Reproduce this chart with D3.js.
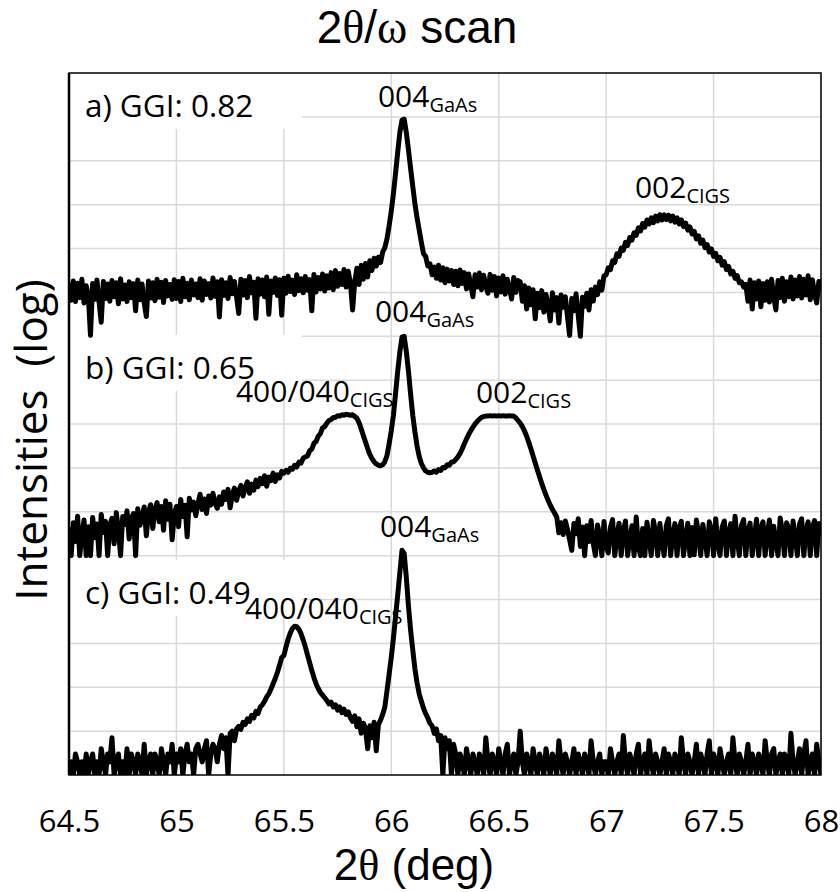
<!DOCTYPE html>
<html><head><meta charset="utf-8">
<script src="https://cdn.jsdelivr.net/npm/d3@7"></script>
<style>body{margin:0;background:#fff}svg{display:block}</style>
</head><body>
<svg id="chart" width="840" height="892"></svg>
<script>
// ---- data: 2theta grid 64.50 .. 68.00 in 0.01 deg steps ----
const thetaStart = 64.5;
const thetaStep = 0.01;
const xTickValues = [64.5, 65, 65.5, 66, 66.5, 67, 67.5, 68];
const xTickLabels = ["64.5", "65", "65.5", "66", "66.5", "67", "67.5", "68"];
const gridDecades = [1,2,3,4,5,6,7,8,9,10,11,12,13,14,15];
// log10(intensity) x 100 (panels stacked by offsets of 5 decades)
const scanA = [
1118,1082,1126,1079,1121,1088,1130,1076,1115,1092,
1002,1120,1084,1128,1078,1032,1125,1086,1119,1080,
1127,1090,1122,1074,1131,1085,1117,1079,1124,1088,
1120,1058,1128,1083,1119,1076,1045,1126,1087,1122,
1081,1130,1089,1123,1077,1127,1092,1118,1084,1129,
1086,1125,1079,1132,1090,1121,1083,1128,1094,1119,
1088,1131,1082,1126,1095,1120,1087,1133,1091,1124,
1044,1129,1093,1122,1086,1134,1097,1125,1089,1052,
1130,1094,1127,1088,1136,1099,1123,1041,1131,1096,
1128,1090,1135,1050,1126,1100,1133,1093,1129,1048,
1132,1098,1137,1102,1128,1095,1140,1104,1131,1099,
1136,1105,1129,1058,1141,1101,1134,1108,1142,1103,
1138,1110,1145,1106,1150,1114,1143,1118,1152,1112,
1148,1120,1060,1125,1155,1118,1162,1130,1166,1135,
1172,1150,1178,1160,1180,1168,1192,1202,1222,1252,
1285,1325,1372,1420,1465,1493,1495,1464,1425,1382,
1342,1302,1270,1242,1214,1188,1182,1160,1165,1140,
1158,1132,1162,1128,1156,1122,1153,1126,1150,1118,
1148,1115,1151,1120,1145,1108,1142,1117,1090,1140,
1112,1144,1106,1139,1114,1098,1141,1105,1136,1092,
1133,1101,1138,1096,1130,1108,1085,1134,1100,1127,
1124,1080,1115,1062,1110,1072,1106,1040,1098,1065,
1104,1055,1095,1070,1035,1099,1060,1088,1030,1094,
1066,1090,1045,1002,1086,1058,1097,1048,1000,1089,
1068,1098,1060,1106,1080,1112,1095,1124,1105,1138,
1140,1156,1152,1172,1168,1188,1182,1201,1196,1214,
1207,1225,1219,1236,1230,1247,1240,1257,1249,1265,
1256,1270,1259,1274,1263,1277,1265,1277,1266,1276,
1263,1274,1260,1270,1256,1265,1250,1258,1242,1249,
1233,1239,1222,1229,1212,1219,1202,1209,1192,1199,
1182,1189,1172,1180,1162,1170,1152,1159,1142,1148,
1132,1138,1122,1124,1112,1118,1080,1128,1062,1122,
1085,1126,1067,1120,1082,1124,1078,1130,1090,1060,
1127,1088,1132,1080,1124,1090,1135,1085,1128,1092,
1136,1087,1130,1094,1138,1083,1129,1096,1076,1125,
1110];
const scanB = [
560,500,575,532,590,500,548,581,500,566,
500,587,541,572,500,594,553,578,500,569,
585,527,598,560,500,589,571,602,538,584,
596,500,607,569,588,611,545,599,616,562,
604,621,577,612,558,625,583,617,536,594,
612,566,628,589,615,543,631,604,622,591,
618,640,605,629,596,636,615,642,620,608,
634,617,645,628,651,609,638,654,626,647,
660,636,655,668,642,663,649,672,657,676,
664,682,658,679,671,688,669,684,677,692,
688,694,690,699,697,706,702,713,711,722,
725,727,739,743,756,760,772,778,791,794,
802,808,810,815,815,819,818,821,820,822,
821,820,821,817,813,803,789,774,759,744,
731,721,714,709,706,705,707,714,728,755,
785,820,870,920,965,998,1000,965,920,868,
820,782,750,726,710,700,693,690,689,690,
693,690,696,694,701,700,707,706,713,714,
719,725,733,743,755,766,776,785,793,800,
806,811,815,817,818,818,819,818,819,818,
819,818,819,818,818,819,818,818,814,808,
802,794,784,772,758,743,727,711,695,680,
665,651,638,626,615,605,597,588,552,575,
548,579,560,536,512,573,550,584,521,565,
500,568,532,580,528,500,570,545,500,578,
521,506,565,582,500,542,574,500,556,579,
500,535,568,500,588,520,500,562,500,576,
538,500,580,551,500,573,530,500,568,584,
500,546,573,500,561,578,500,539,574,500,
564,502,581,550,500,571,538,500,577,559,
500,584,528,500,565,579,500,552,573,500,
590,537,500,569,582,500,556,574,500,541,
583,500,562,577,500,550,581,500,567,531,
500,586,556,500,575,561,500,579,543,500,
572,584,500,558,577,500,564,580,500,573,
551];
const scanC = [
0,30,0,48,30,0,30,0,48,0,
30,48,0,30,0,60,30,0,48,30,
85,0,30,48,0,30,0,60,0,48,
30,0,48,30,0,70,0,30,48,0,
48,30,0,60,30,0,48,30,70,0,
48,30,60,0,48,70,30,48,0,60,
70,48,30,60,78,0,48,70,60,30,
70,90,60,85,0,95,100,78,105,111,
104,120,115,128,122,136,130,145,140,155,
160,168,178,185,196,208,220,234,250,268,
272,292,310,324,334,339,338,332,322,308,
292,274,256,238,222,208,197,188,182,176,
170,162,166,155,160,148,155,142,150,138,
144,130,122,135,110,128,95,118,105,60,
112,85,120,55,115,125,138,155,192,230,
268,312,362,410,462,512,505,450,385,330,
285,242,210,185,168,152,140,130,118,112,
95,105,78,90,0,85,60,78,0,70,
48,0,48,30,0,60,30,0,48,30,
0,48,30,0,85,30,0,48,30,0,
60,30,0,48,70,0,30,48,0,30,
100,30,0,48,30,0,60,30,0,48,
30,0,60,30,0,48,30,0,78,30,
0,48,30,0,30,60,0,48,30,0,
48,30,0,78,30,0,30,48,0,30,
30,0,60,30,0,30,48,0,90,30,
0,48,30,0,48,70,0,30,48,0,
78,30,0,48,30,0,30,60,0,48,
30,0,48,30,0,85,30,0,48,30,
0,30,70,0,48,30,0,48,78,0,
48,30,0,60,30,0,30,48,0,85,
30,0,48,30,0,30,70,0,48,30,
0,48,30,0,78,30,0,48,60,0,
30,48,0,48,30,0,95,30,0,30,
60,0,48,78,0,30,48,0,70,30,
0];
const panelLabels = ["a) GGI: 0.82", "b) GGI: 0.65", "c) GGI: 0.49"];
// annotation anchors in data units: [main, subscript, 2theta, log10 level]
const peakLabels = [
  ["004", "GaAs", 65.938, 15.22],
  ["002", "CIGS", 67.134, 13.15],
  ["004", "GaAs", 65.924, 10.33],
  ["400/040", "CIGS", 65.277, 8.50],
  ["002", "CIGS", 66.394, 8.48],
  ["004", "GaAs", 65.947, 5.42],
  ["400/040", "CIGS", 65.319, 3.56]
];
const panelLabelLevels = [15.0, 9.03, 3.90];

// ---- layout ----
const L = 69, R = 821, T = 73, B = 775;
const svg = d3.select("#chart");
const x = d3.scaleLinear().domain([64.5, 68]).range([L, R]);
const y = d3.scaleLog().domain([1, 1e16]).range([B, T]);
const lvl = v => y(Math.pow(10, v));

const fontSans = "'Open Sans', 'Noto Sans', sans-serif";
const fontArial = "'Liberation Sans', Arial, sans-serif";
const fontSerif = "'Liberation Serif', 'DejaVu Serif', serif";

svg.append("defs").append("clipPath").attr("id", "plotClip")
  .append("rect").attr("x", L).attr("y", T).attr("width", R - L).attr("height", B - T);

// gridlines
const grid = svg.append("g").attr("stroke", "#d9d9d9").attr("stroke-width", 1.5);
grid.selectAll("line.v").data(xTickValues).join("line")
  .attr("x1", d => x(d)).attr("x2", d => x(d)).attr("y1", T).attr("y2", B);
grid.selectAll("line.h").data(gridDecades).join("line")
  .attr("x1", L).attr("x2", R).attr("y1", d => lvl(d)).attr("y2", d => lvl(d));

// white boxes behind panel labels
svg.append("g").selectAll("rect").data(panelLabelLevels).join("rect")
  .attr("x", L + 1).attr("width", 232)
  .attr("y", d => lvl(d) - 44).attr("height", 56)
  .attr("fill", "#fff");

// scans
const line = d3.line()
  .x((d, i) => x(+(thetaStart + i * thetaStep).toFixed(2)))
  .y(d => lvl(d / 100));
svg.append("g").attr("clip-path", "url(#plotClip)")
  .selectAll("path").data([scanA, scanB, scanC]).join("path")
  .attr("d", line).attr("fill", "none").attr("stroke", "#000")
  .attr("stroke-width", 5).attr("stroke-linejoin", "round").attr("stroke-linecap", "round");

// plot border
svg.append("rect").attr("x", L).attr("y", T).attr("width", R - L).attr("height", B - T)
  .attr("fill", "none").attr("stroke", "#000").attr("stroke-width", 1.5);
svg.append("line").attr("x1", L).attr("x2", L).attr("y1", T).attr("y2", B)
  .attr("stroke", "#000").attr("stroke-width", 2.5);

// panel labels
svg.append("g").selectAll("text").data(panelLabels).join("text")
  .attr("x", x(64.574)).attr("y", (d, i) => lvl(panelLabelLevels[i]))
  .attr("font-family", fontSans).attr("font-size", 31.5).attr("fill", "#000")
  .text(d => d);

// peak labels
const pk = svg.append("g").selectAll("text").data(peakLabels).join("text")
  .attr("x", d => x(d[2])).attr("y", d => lvl(d[3]))
  .attr("font-family", fontSans).attr("font-size", 30).attr("fill", "#000");
pk.append("tspan").text(d => d[0]);
pk.append("tspan").attr("dy", 5).attr("font-size", 20).text(d => d[1]);

// x axis tick labels
const xAxis = d3.axisBottom(x).tickValues(xTickValues)
  .tickFormat((d, i) => xTickLabels[i]).tickSize(0).tickPadding(35);
const ax = svg.append("g").attr("transform", `translate(0,${B})`).call(xAxis);
ax.select(".domain").remove();
ax.selectAll("text").attr("font-family", fontSans).attr("font-size", 31).attr("fill", "#000");

// x axis title
const xt = svg.append("text").attr("x", 414).attr("y", 880).attr("text-anchor", "middle")
  .attr("font-family", fontArial).attr("font-size", 44).attr("fill", "#000");
xt.append("tspan").text("2");
xt.append("tspan").attr("font-family", fontSerif).text("\u03B8");
xt.append("tspan").text(" (deg)");

// y axis title
svg.append("text").attr("transform", "translate(47,440) rotate(-90)")
  .attr("text-anchor", "middle").attr("font-family", fontSans).attr("font-size", 44)
  .attr("fill", "#000").text("Intensities\u00A0 (log)");

// chart title
const tt = svg.append("text").attr("x", 417).attr("y", 43).attr("text-anchor", "middle")
  .attr("font-family", fontArial).attr("font-size", 46).attr("fill", "#000");
tt.append("tspan").text("2");
tt.append("tspan").attr("font-family", fontSerif).text("\u03B8");
tt.append("tspan").text("/");
tt.append("tspan").attr("font-family", fontSerif).text("\u03C9");
tt.append("tspan").text(" scan");
</script>
</body></html>
